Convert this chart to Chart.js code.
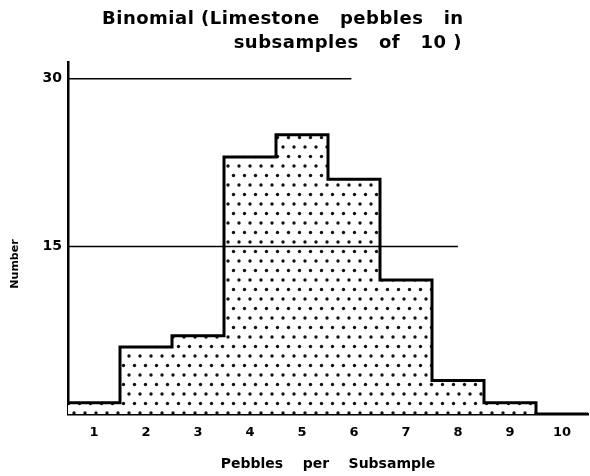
<!DOCTYPE html>
<html>
<head>
<meta charset="utf-8">
<script src="https://cdn.jsdelivr.net/npm/chart.js@4.4.1/dist/chart.umd.min.js"></script>
<style>
  html, body { margin: 0; padding: 0; background: #fff; }
</style>
</head>
<body>
<canvas id="histChart" width="590" height="476"></canvas>
<script>
const pebbles = [1, 2, 3, 4, 5, 6, 7, 8, 9, 10];
const counts = [1, 6, 7, 23, 25, 21, 12, 3, 1, 0];
const xTicks = [1, 2, 3, 4, 5, 6, 7, 8, 9, 10];
const yTicks = [15, 30];
// hand drawn guide lines: level and where they stop (in pebbles)
const guideLevels = [30, 15];
const guideEnds = [5.95, 8];

const titleLines = ['Binomial (Limestone   pebbles   in', 'subsamples   of   10 )'];

const ctx = document.getElementById('histChart').getContext('2d');

// stippled fill like the printed figure
function dotPattern() {
    const tile = document.createElement('canvas');
    tile.width = 11;
    tile.height = 19;
    const g = tile.getContext('2d');
    g.fillStyle = '#fff';
    g.fillRect(0, 0, 11, 19);
    g.fillStyle = '#111';
    [[2.5, 4.5], [8, 14]].forEach(([x, y]) => {
        g.beginPath();
        g.arc(x, y, 1.7, 0, Math.PI * 2);
        g.fill();
    });
    return ctx.createPattern(tile, 'repeat');
}

const bars = counts.map((c, i) => ({ x: pebbles[i], y: c }));

// outer step outline of the histogram
const outline = counts.map((c, i) => ({ x: pebbles[i] - 0.5, y: c }));
outline.push({ x: pebbles[pebbles.length - 1] + 0.5, y: 0 });

const guideSets = guideLevels.map((lvl, i) => ({
    type: 'line',
    data: [{ x: 0.5, y: lvl }, { x: guideEnds[i], y: lvl }],
    borderColor: '#000',
    borderWidth: 1.5,
    pointRadius: 0,
    fill: false,
    order: 0
}));

const extraText = {
    id: 'extraText',
    afterDraw(chart) {
        const c = chart.ctx;
        c.save();
        c.fillStyle = '#000';
        c.textBaseline = 'middle';
        c.font = 'bold 18px "DejaVu Sans"';
        c.letterSpacing = '0.5px';
        c.textAlign = 'left';
        c.fillText(titleLines[0], 102, 19);
        c.textAlign = 'right';
        c.fillText(titleLines[1], 462, 43);
        c.letterSpacing = '0px';
        // y axis name
        c.translate(15, 264);
        c.rotate(-Math.PI / 2);
        c.textAlign = 'center';
        c.font = 'bold 11px "DejaVu Sans"';
        c.fillText('Number', 0, 0);
        c.restore();
    }
};

new Chart(ctx, {
    type: 'bar',
    data: {
        datasets: [
            {
                type: 'line',
                data: outline,
                stepped: 'before',
                borderColor: '#000',
                borderWidth: 3,
                borderJoinStyle: 'miter',
                pointRadius: 0,
                fill: false,
                order: 0
            },
            ...guideSets,
            {
                type: 'bar',
                data: bars,
                backgroundColor: dotPattern(),
                borderWidth: 0,
                barPercentage: 1,
                categoryPercentage: 1,
                order: 1
            }
        ]
    },
    options: {
        responsive: false,
        animation: false,
        layout: { padding: { top: 62, right: 2, left: 0, bottom: 0 } },
        plugins: {
            legend: { display: false },
            tooltip: { enabled: false }
        },
        scales: {
            x: {
                type: 'linear',
                min: 0.5,
                max: 10.5,
                offset: false,
                grid: { display: false, drawTicks: false },
                border: { color: '#000', width: 2.5 },
                afterBuildTicks: axis => { axis.ticks = xTicks.map(v => ({ value: v })); },
                ticks: {
                    color: '#000',
                    padding: 11,
                    font: { family: 'DejaVu Sans', size: 13, weight: 'bold' }
                },
                title: {
                    display: true,
                    text: 'Pebbles    per    Subsample',
                    color: '#000',
                    padding: { top: 4, bottom: 3 },
                    font: { family: 'DejaVu Sans', size: 14, weight: 'bold' }
                },
                afterFit: scale => { scale.height = 62; }
            },
            y: {
                min: 0,
                max: 31.5,
                grid: { display: false, drawTicks: false },
                border: { color: '#000', width: 2.5 },
                afterBuildTicks: axis => { axis.ticks = yTicks.map(v => ({ value: v })); },
                ticks: {
                    color: '#000',
                    padding: 6,
                    font: { family: 'DejaVu Sans', size: 14, weight: 'bold' }
                },
                afterFit: scale => { scale.width = 68; }
            }
        }
    },
    plugins: [extraText]
});
</script>
</body>
</html>
